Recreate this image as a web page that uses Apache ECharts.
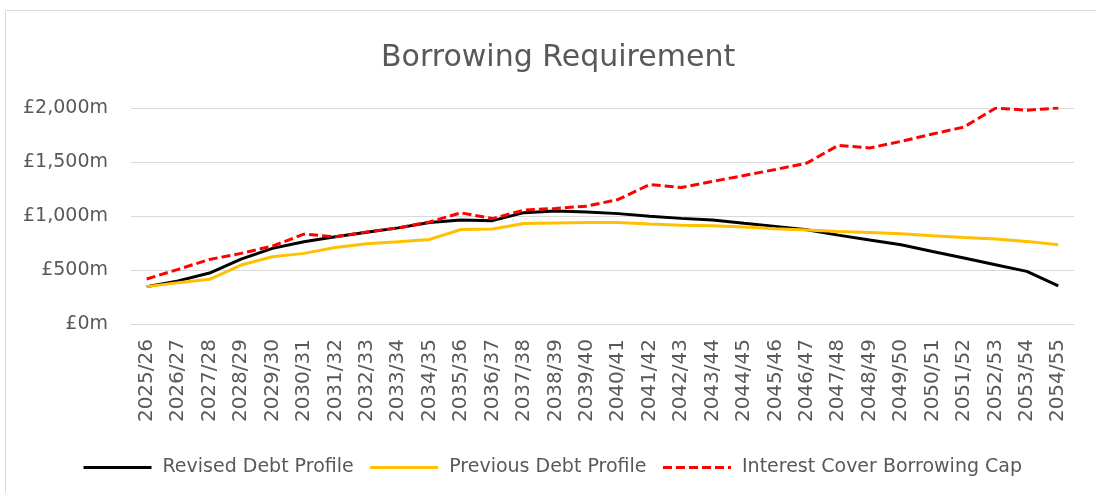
<!DOCTYPE html>
<html>
<head>
<meta charset="utf-8">
<title>Borrowing Requirement</title>
<script src="https://cdn.jsdelivr.net/npm/echarts@6/dist/echarts.min.js"></script>
<style>
  html, body { margin: 0; padding: 0; background: #ffffff; }
  #chart { width: 1096px; height: 493px; }
</style>
</head>
<body>
<div id="chart"></div>
<script>
// financial years
var years = ['2025/26', '2026/27', '2027/28', '2028/29', '2029/30', '2030/31', '2031/32', '2032/33',
  '2033/34', '2034/35', '2035/36', '2036/37', '2037/38', '2038/39', '2039/40', '2040/41',
  '2041/42', '2042/43', '2043/44', '2044/45', '2045/46', '2046/47', '2047/48', '2048/49',
  '2049/50', '2050/51', '2051/52', '2052/53', '2053/54', '2054/55']

// £m
var revisedDebt = [346, 399, 472, 600, 700, 761, 807, 850, 890, 940, 963, 957, 1031, 1046, 1037,
  1022, 997, 978, 963, 933, 904, 872, 823, 778, 734, 672, 611, 549, 487, 354]
var previousDebt = [346, 383, 414, 546, 623, 654, 709, 742, 761, 783, 875, 880, 930, 936, 940,
  940, 927, 915, 910, 898, 883, 870, 857, 848, 836, 818, 802, 787, 765, 734]
var interestCap = [417, 506, 598, 654, 721, 832, 807, 853, 890, 945, 1029, 976, 1054, 1070, 1091,
  1153, 1291, 1264, 1320, 1375, 1430, 1490, 1654, 1630, 1691, 1759, 1824, 1998, 1980, 2000]

var yTicks = { min: 0, max: 2000, interval: 500 }

var font = 'DejaVu Sans'
var grey = '#595959'

var myChart = echarts.init(document.getElementById('chart'))
myChart.setOption({
  animation: false,
  backgroundColor: '#ffffff',
  graphic: [
    {
      type: 'rect',
      shape: { x: 5.5, y: 10.5, width: 1200, height: 600 },
      style: { fill: 'none', stroke: '#d9d9d9', lineWidth: 1 },
      silent: true
    }
  ],
  title: {
    text: 'Borrowing Requirement',
    left: 376,
    top: 38,
    textStyle: { fontFamily: font, fontSize: 30, fontWeight: 'normal', color: grey }
  },
  legend: {
    left: 77,
    top: 453,
    itemWidth: 68,
    itemHeight: 20,
    itemGap: 15,
    // hide the marker dot, keep only the line
    itemStyle: { opacity: 0 },
    lineStyle: { width: 3 },
    textStyle: { fontFamily: font, fontSize: 19, color: grey, padding: [0, 0, 0, 6] },
    data: ['Revised Debt Profile', 'Previous Debt Profile', 'Interest Cover Borrowing Cap']
  },
  grid: {
    left: 131,
    right: 22,
    top: 108,
    bottom: 169
  },
  xAxis: {
    type: 'category',
    boundaryGap: true,
    data: years,
    axisLine: { lineStyle: { color: '#d9d9d9', width: 1 } },
    axisTick: { show: false },
    axisLabel: {
      rotate: 90,
      margin: 15,
      interval: 0,
      fontFamily: font,
      fontSize: 20,
      color: grey
    }
  },
  yAxis: {
    type: 'value',
    min: yTicks.min,
    max: yTicks.max,
    interval: yTicks.interval,
    axisLine: { show: false },
    axisTick: { show: false },
    splitLine: { lineStyle: { color: '#d9d9d9', width: 1 } },
    axisLabel: {
      margin: 23,
      fontFamily: font,
      fontSize: 19,
      color: grey,
      formatter: function (v) {
        return '£' + v.toLocaleString('en-GB') + 'm'
      }
    }
  },
  series: [
    {
      name: 'Revised Debt Profile',
      type: 'line',
      symbol: 'none',
      data: revisedDebt,
      lineStyle: { color: '#000000', width: 3 },
      itemStyle: { color: '#000000' }
    },
    {
      name: 'Previous Debt Profile',
      type: 'line',
      symbol: 'none',
      data: previousDebt,
      lineStyle: { color: '#ffc000', width: 3 },
      itemStyle: { color: '#ffc000' }
    },
    {
      name: 'Interest Cover Borrowing Cap',
      type: 'line',
      symbol: 'none',
      data: interestCap,
      z: 3,
      lineStyle: { color: '#ff0000', width: 3, type: [9, 4] },
      itemStyle: { color: '#ff0000' }
    }
  ]
})
</script>
</body>
</html>
